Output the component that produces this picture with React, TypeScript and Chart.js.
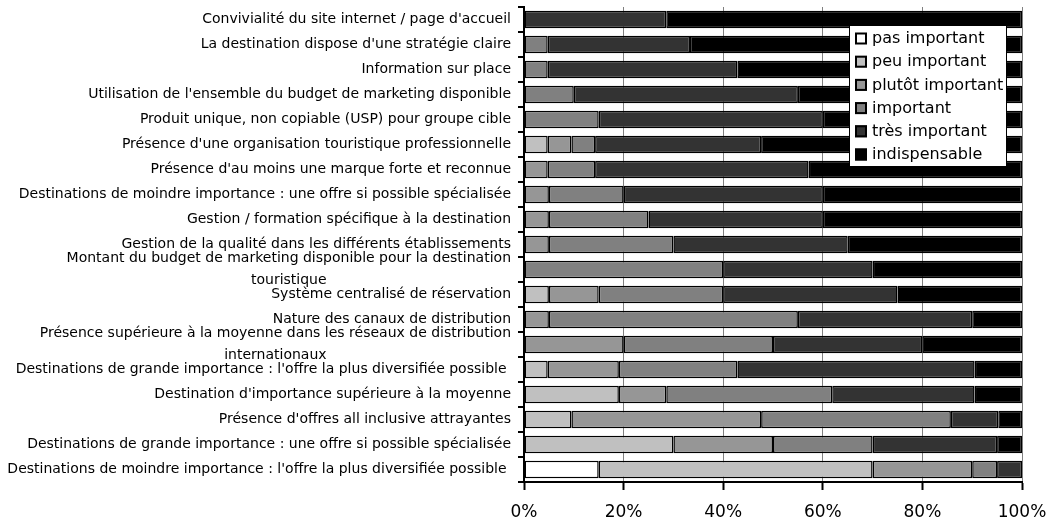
import React, { useEffect, useRef } from 'react';
import { Chart, registerables } from 'chart.js';

Chart.register(...registerables);

const categories: (string | string[])[] = [
  "Convivialité du site internet / page d'accueil",
  "La destination dispose d'une stratégie claire",
  'Information sur place',
  "Utilisation de l'ensemble du budget de marketing disponible",
  'Produit unique, non copiable (USP) pour groupe cible',
  "Présence d'une organisation touristique professionnelle",
  "Présence d'au moins une marque forte et reconnue",
  'Destinations de moindre importance : une offre si possible spécialisée',
  'Gestion / formation spécifique à la destination',
  'Gestion de la qualité dans les différents établissements',
  ['Montant du budget de marketing disponible pour la destination', 'touristique'],
  'Système centralisé de réservation',
  'Nature des canaux de distribution',
  ['Présence supérieure à la moyenne dans les réseaux de distribution', 'internationaux'],
  "Destinations de grande importance : l'offre la plus diversifiée possible ",
  "Destination d'importance supérieure à la moyenne",
  "Présence d'offres all inclusive attrayantes",
  'Destinations de grande importance : une offre si possible spécialisée',
  "Destinations de moindre importance : l'offre la plus diversifiée possible ",
];

const seriesNames = [
  'pas important',
  'peu important',
  'plutôt important',
  'important',
  'très important',
  'indispensable',
];

const seriesColors = ['#ffffff', '#c0c0c0', '#969696', '#808080', '#333333', '#000000'];

const pasImportant = [0, 0, 0, 0, 0, 0, 0, 0, 0, 0, 0, 0, 0, 0, 0, 0, 0, 0, 15];
const peuImportant = [0, 0, 0, 0, 0, 4.76, 0, 0, 0, 0, 0, 5, 0, 0, 4.76, 19.05, 9.52, 30, 55];
const plutotImportant = [0, 0, 0, 0, 0, 4.76, 4.76, 5, 5, 5, 0, 10, 5, 20, 14.29, 9.52, 38.1, 20, 20];
const important = [0, 4.76, 4.76, 10, 15, 4.76, 9.52, 15, 20, 25, 40, 25, 50, 30, 23.81, 33.33, 38.1, 20, 5];
const tresImportant = [28.57, 28.57, 38.1, 45, 45, 33.33, 42.86, 40, 35, 35, 30, 35, 35, 30, 47.62, 28.57, 9.52, 25, 5];
const indispensable = [71.43, 66.67, 57.14, 45, 40, 52.38, 42.86, 40, 40, 35, 30, 25, 10, 20, 9.52, 9.52, 4.76, 5, 0];

const seriesValues = [pasImportant, peuImportant, plutotImportant, important, tresImportant, indispensable];

const xTickValues = [0, 20, 40, 60, 80, 100];

const FONT = '"DejaVu Sans", Verdana, sans-serif';

const yLabelPlugin = {
  id: 'yLabelPlugin',
  afterDraw(chart: any) {
    const { ctx } = chart;
    const yScale = chart.scales.y;
    ctx.save();
    ctx.font = `14px ${FONT}`;
    ctx.fillStyle = '#000';
    ctx.textBaseline = 'middle';
    const right = yScale.right - 13;
    const lineH = 22;
    categories.forEach((lab, i) => {
      const cy = yScale.getPixelForTick(i);
      const lines = Array.isArray(lab) ? lab : [lab];
      if (lines.length === 1) {
        ctx.textAlign = 'right';
        ctx.fillText(lines[0], right, cy);
      } else {
        const w = Math.max(...lines.map((l) => ctx.measureText(l).width));
        const cx = right - w / 2;
        ctx.textAlign = 'center';
        lines.forEach((l, k) => {
          ctx.fillText(l, cx, cy + (k - (lines.length - 1) / 2) * lineH);
        });
      }
    });
    ctx.restore();
  },
};

const legendPlugin = {
  id: 'boxLegend',
  afterDraw(chart: any) {
    const { ctx, chartArea } = chart;
    const left = chartArea.right - 173;
    const top = chartArea.top + 18;
    const w = 158;
    const h = 142;
    ctx.save();
    ctx.fillStyle = '#fff';
    ctx.fillRect(left, top, w, h);
    ctx.strokeStyle = '#000';
    ctx.lineWidth = 1;
    ctx.strokeRect(left + 0.5, top + 0.5, w - 1, h - 1);
    ctx.font = `16px ${FONT}`;
    ctx.textBaseline = 'middle';
    ctx.textAlign = 'left';
    chart.data.datasets.forEach((ds: any, i: number) => {
      const cy = top + 13.5 + i * 23.2;
      ctx.fillStyle = ds.backgroundColor;
      ctx.fillRect(left + 6, cy - 6, 12, 12);
      ctx.strokeStyle = '#000';
      ctx.lineWidth = 2;
      ctx.strokeRect(left + 7, cy - 5, 10, 10);
      ctx.fillStyle = '#000';
      ctx.fillText(ds.label, left + 23, cy + 0.5);
    });
    ctx.restore();
  },
};

export default function App() {
  const canvasRef = useRef<HTMLCanvasElement | null>(null);

  useEffect(() => {
    if (!canvasRef.current) return;
    const chart = new Chart(canvasRef.current, {
      type: 'bar',
      data: {
        labels: categories.map((c) => (Array.isArray(c) ? c.join(' ') : c)),
        datasets: seriesNames.map((name, i) => ({
          label: name,
          data: seriesValues[i],
          backgroundColor: seriesColors[i],
          borderColor: '#000',
          borderWidth: 1.5,
          borderSkipped: false,
          barPercentage: 0.7,
          categoryPercentage: 1,
        })),
      },
      options: {
        indexAxis: 'y',
        animation: false,
        responsive: false,
        devicePixelRatio: 1,
        layout: { padding: { left: 0, top: 7, right: 30, bottom: 0 } },
        plugins: {
          legend: { display: false },
          tooltip: { enabled: false },
        },
        scales: {
          x: {
            stacked: true,
            min: 0,
            max: 100,
            afterBuildTicks: (scale: any) => {
              scale.ticks = xTickValues.map((v) => ({ value: v }));
            },
            afterFit: (scale: any) => {
              scale.height = 41;
              scale.paddingLeft = 0;
              scale.paddingRight = 0;
            },
            ticks: {
              color: '#000',
              font: { family: FONT, size: 17 },
              padding: 12,
              callback: (v: any) => `${v}%`,
            },
            grid: {
              color: '#808080',
              lineWidth: 1,
              tickColor: '#000',
              tickLength: 8,
              tickWidth: 2,
            },
            border: { display: true, color: '#000', width: 2 },
          },
          y: {
            stacked: true,
            afterFit: (scale: any) => {
              scale.width = 524;
            },
            ticks: { display: false },
            grid: {
              offset: true,
              drawOnChartArea: false,
              drawTicks: true,
              tickLength: 6,
              color: '#000',
              lineWidth: 2,
            },
            border: { display: true, color: '#000', width: 2 },
          },
        },
      },
      plugins: [yLabelPlugin, legendPlugin],
    });
    return () => chart.destroy();
  }, []);

  return (
    <div style={{ position: 'fixed', left: 0, top: 0, width: 1052, height: 523, background: '#fff' }}>
      <canvas ref={canvasRef} width={1052} height={523} />
    </div>
  );
}
